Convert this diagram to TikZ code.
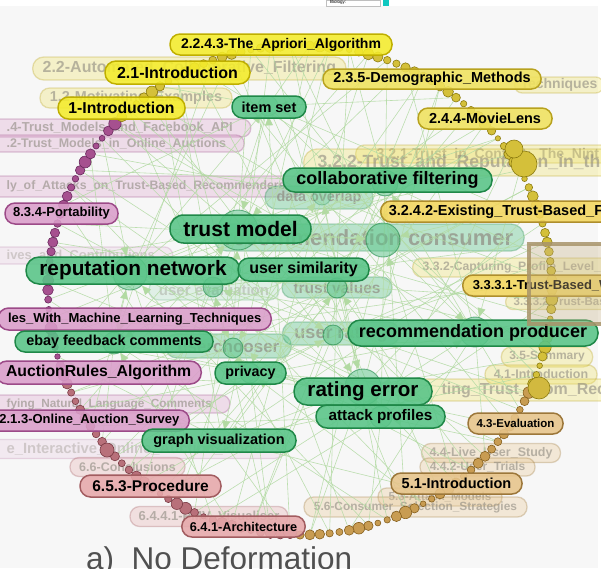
\documentclass[tikz,border=0pt]{standalone}
\usepackage{fontspec}
\setmainfont{Liberation Sans}
\usetikzlibrary{arrows.meta}
\definecolor{bgc}{HTML}{F7F7F7}
\definecolor{yF}{HTML}{F4EC2C}\definecolor{yD}{HTML}{BFAF00}
\definecolor{y2F}{HTML}{F0E25E}\definecolor{y2D}{HTML}{B8A21E}
\definecolor{gF}{HTML}{F3D65E}\definecolor{gD}{HTML}{AE8E2C}
\definecolor{tF}{HTML}{E7C48A}\definecolor{tD}{HTML}{9C773A}
\definecolor{rF}{HTML}{E6A8AA}\definecolor{rD}{HTML}{A25C60}
\definecolor{pF}{HTML}{DA9ECA}\definecolor{pD}{HTML}{9C4A88}
\definecolor{nF}{HTML}{58C487}\definecolor{nD}{HTML}{1F8848}
\definecolor{edgec}{HTML}{B2DAA2}
\definecolor{dY}{HTML}{D4C03A}\definecolor{dYd}{HTML}{8C7C10}
\definecolor{dP}{HTML}{A6508F}\definecolor{dPd}{HTML}{6A2A5E}
\definecolor{dR}{HTML}{B8707A}\definecolor{dRd}{HTML}{7A3A44}
\definecolor{dT}{HTML}{C89C52}\definecolor{dTd}{HTML}{86601E}
\definecolor{sqD}{HTML}{A8946A}\definecolor{sqF}{HTML}{C8B48A}
\definecolor{capc}{HTML}{505050}\definecolor{cyC}{HTML}{10C8C0}
\definecolor{fadeT}{HTML}{8E8A80}
\newcommand\fsz[1]{\fontsize{#1}{#1}\selectfont\bfseries}
\pgfdeclarelayer{bgl}\pgfdeclarelayer{fadel}\pgfdeclarelayer{edgel}\pgfdeclarelayer{fgl}
\pgfsetlayers{bgl,fadel,edgel,main,fgl}
\tikzset{
 pill/.style={rectangle, draw, line width=1.5pt, inner ysep=0pt, inner xsep=8pt, text=black},
 ph/.style={minimum height=#1pt, rounded corners=#1pt/2-0.4pt},
 pw/.style={minimum width=#1pt},
 fs/.style={font=\fsz{#1}},
 solid/.style={pill, fill opacity=0.88, text opacity=1},
 pY/.style={solid, fill=yF, draw=yD},
 pY2/.style={solid, fill=y2F, draw=y2D},
 pG/.style={solid, fill=gF, draw=gD},
 pT/.style={solid, fill=tF, draw=tD},
 pR/.style={solid, fill=rF, draw=rD},
 pP/.style={solid, fill=pF, draw=pD},
 pN/.style={solid, fill=nF, draw=nD},
 fade/.style={pill, line width=1.3pt, fill opacity=0.3, draw opacity=0.3, text=fadeT, text opacity=0.6},
 faint/.style={fill opacity=0.15, draw opacity=0.18, text opacity=0.35},
 fY/.style={fade, fill=y2F, draw=y2D},
 fT/.style={fade, fill=tF, draw=tD},
 fP/.style={fade, fill=pF, draw=pD},
 fR/.style={fade, fill=rF, draw=rD},
 fN/.style={fade, fill=nF, draw=nD, fill opacity=0.38, text opacity=0.7},
 hub/.style={circle, inner sep=0pt, fill=nF, draw=nD, fill opacity=0.5, draw opacity=0.6, line width=0.9pt},
 rdot/.style={circle, inner sep=0pt, line width=0.6pt},
 lnk/.style={draw=edgec, line width=0.6pt, draw opacity=0.85},
 arr/.style={-{Triangle[length=9pt,width=8pt]}},
}
\begin{document}
\begin{tikzpicture}[x=1pt,y=-1pt]
\useasboundingbox (0,0) rectangle (601,568);
\begin{pgfonlayer}{bgl}
\fill[white] (0,0) rectangle (601,568);
\fill[bgc] (0,6) rectangle (598,568);
\node[draw=black!25, line width=0.3pt, fill=white, minimum width=54pt, minimum height=6pt, inner sep=0pt, anchor=north west] (bio) at (326,0) {};
\node[anchor=west, inner sep=0pt, font=\fontsize{4.5}{5}\selectfont] (biot) at (330,2.5) {Biology:};
\node[fill=cyC, minimum width=6pt, minimum height=6pt, inner sep=0pt, anchor=north west] (cy) at (383,0) {};
\end{pgfonlayer}

% hubs
\node[hub, minimum size=40pt] (hTM) at (238,230) {};
\node[hub, minimum size=26pt] (hCF) at (385,183) {};
\node[hub, minimum size=34pt] (hRC) at (383,240) {};
\node[hub, minimum size=34pt] (hRN) at (130,273) {};
\node[hub, minimum size=20pt] (hUE) at (213,287) {};
\node[hub, minimum size=20pt] (hTV) at (337,288) {};
\node[hub, minimum size=18pt, fill opacity=0.25, draw opacity=0.3] (hDO) at (322,196) {};
\node[hub, minimum size=20pt, fill opacity=0.3, draw opacity=0.35] (hIS) at (268,106) {};
\node[hub, minimum size=30pt] (hRP) at (475,332) {};
\node[hub, minimum size=20pt] (hUR) at (333,335) {};
\node[hub, minimum size=36pt] (hRE) at (363,387) {};
\node[hub, minimum size=22pt] (hAP) at (381,417) {};
\node[hub, minimum size=20pt] (hPV) at (250,373) {};
\node[hub, minimum size=20pt] (hUC) at (233,348) {};
\node[hub, minimum size=22pt] (hEB) at (114,343) {};
\node[hub, minimum size=20pt, fill opacity=0.2, draw opacity=0.25] (hGV) at (222,440) {};

% ring of section dots
\foreach \i in {0,...,159}{
  \pgfmathsetmacro\t{2.25*\i}
  \pgfmathsetmacro\ds{2*(2.6+1.2*(1+sin(\i*77.3))+0.6*(1+cos(\i*61.7)))}
  \pgfmathtruncatemacro\seg{(\t>=24)*(\t<92)*1+(\t>=92)*(\t<158)*2+(\t>=158)*(\t<224)*3}
  \ifcase\seg \def\dc{dY}\def\dd{dYd}\or \def\dc{dT}\def\dd{dTd}\or \def\dc{dR}\def\dd{dRd}\or \def\dc{dP}\def\dd{dPd}\fi
  \node[rdot, fill=\dc, draw=\dd, minimum size=\ds pt] (d\i) at ({300+252*cos(\t)},{290+245*sin(\t)}) {};
}
\node[rdot, fill=dY, draw=dYd, minimum size=26pt] (bd1) at (524,164) {};
\node[rdot, fill=dY, draw=dYd, minimum size=18pt] (bd2) at (514,149) {};
\node[rdot, fill=dY!80!dT, draw=dYd, minimum size=22pt] (bd3) at (539,388) {};
\node[rdot, fill=dR, draw=dRd, minimum size=14pt] (bd4) at (107,450) {};
\node[rdot, fill=dR, draw=dRd, minimum size=14pt] (bd5) at (290,531) {};

% edges
\begin{pgfonlayer}{edgel}
\foreach \h/\s in {hTM/3, hCF/13, hRC/23, hRN/33, hUE/43, hTV/53, hDO/63, hIS/73, hRP/83, hUR/93, hRE/103, hAP/113, hPV/123, hUC/133, hEB/143, hGV/153}{
  \foreach \k in {0,...,9}{
    \pgfmathtruncatemacro\j{mod(\s+16*\k,160)}
    \pgfmathtruncatemacro\ar{mod(\k,4)==0}
    \ifnum\ar=1 \draw[lnk,arr] (d\j) -- (\h); \else \draw[lnk] (d\j) -- (\h); \fi
  }
}
\foreach \a/\b in {hTM/hRC, hTM/hRN, hRC/hRP, hRE/hAP, hTV/hRE, hUE/hRN, hIS/hTM, hCF/hRC, hPV/hRE, hUC/hTM, hEB/hRN, hGV/hRE, hUR/hRP, hDO/hCF}{
  \draw[lnk,arr] (\a) -- (\b);
}
\end{pgfonlayer}

% faded labels
\begin{pgfonlayer}{fadel}
\node[fY, ph=23, fs=16, anchor=west, inner xsep=10pt] (f1) at (32,68.5) {2.2-Automated\_Collaborative\_Filtering};
\node[fY, ph=20, pw=192, fs=14.4] (f2) at (136,98) {1.2-Motivating\_Examples};
\node[fY, ph=16, fs=14, anchor=east, inner xsep=6pt] (f3) at (604,85) {Techniques};
\node[fY, ph=18, fs=14, anchor=west, inner xsep=21pt] (f4) at (355,154) {3.2.1-Trust\_in\_Context:\_The\_Nint};
\node[fY, ph=27, fs=17.6, anchor=west, inner xsep=14pt] (f5) at (303,162.5) {3.2.2-Trust\_and\_Reputation\_in\_th};
\node[fY, ph=19, fs=12.2, anchor=west, inner xsep=10pt] (f6) at (412,267.5) {3.3.2-Capturing\_Profile\_Level\_};
\node[fY, ph=15, fs=11.5, anchor=west, inner xsep=8pt] (f7) at (505,302) {3.3.3.2-Trust-Based\_};
\node[fY, ph=20, pw=90, fs=12] (f8) at (547,357) {3.5-Summary};
\node[fY, ph=19, pw=112, fs=12.5] (f9) at (541,374.5) {4.1-Introduction};
\node[fY, ph=22, fs=16, anchor=west, inner xsep=43pt] (f10) at (398,390) {ting\_Trust\_From\_Recomm};
\node[fT, ph=19, pw=134, fs=12.5] (f11) at (491,453) {4.4-Live\_User\_Study};
\node[fT, ph=18, pw=115, fs=12] (f12) at (477.5,467) {4.4.2-User\_Trials};
\node[fT, ph=18, pw=124, fs=11.7] (f13) at (440,497) {5.3-Attack\_Models};
\node[fT, ph=20, pw=223, fs=11.9] (f14) at (415.5,507) {5.6-Consumer\_Selection\_Strategies};
\node[fP, ph=18, fs=13, anchor=west, inner xsep=18pt] (f15) at (-12,128) {.4-Trust\_Models\_and\_Facebook\_API};
\node[fP, ph=17, fs=12.5, anchor=west, inner xsep=18pt] (f16) at (-12,143.5) {.2-Trust\_Models\_in\_Online\_Auctions};
\node[fP, ph=21, fs=12.3, anchor=west, inner xsep=18pt] (f17) at (-12,186.5) {ly\_of\_Attacks\_on\_Trust-Based\_Recommenders};
\node[fP, faint, ph=17, fs=13, anchor=west, inner xsep=18pt] (f18) at (-12,255.5) {ives\_and\_Contributions};
\node[fP, ph=18, fs=11.8, anchor=west, inner xsep=18pt] (f19) at (-12,404) {fying\_Natural\_Language\_Comments};
\node[fP, faint, ph=19, fs=14.8, anchor=west, inner xsep=18pt] (f20) at (-12,449) {e\_Interactive\_Online\_Auction\_Model};
\node[fR, ph=19, pw=115, fs=12.5] (f21) at (127.5,467) {6.6-Conclusions};
\node[fR, ph=20, pw=158, fs=13] (f22) at (209,516.5) {6.4.4.1-PMV\_Visualiser};
\node[fN, ph=23, pw=108, fs=14.4] (f23) at (319,197.5) {data overlap};
\node[fN, ph=27, fs=22, anchor=west, inner xsep=11pt] (f24) at (213,237.5) {recommendation consumer};
\node[fN, ph=21, pw=110, fs=15.5] (f25) at (337,287.5) {trust values};
\node[fN, faint, ph=20, pw=130, fs=15] (f26) at (214,290) {user evaluation};
\node[fN, ph=24, fs=17, anchor=east, inner xsep=12pt] (f27) at (292,346) {userchooser};
\node[fN, ph=23, pw=117, fs=18] (f28) at (341,333.5) {user rating};
\end{pgfonlayer}

% solid section labels
\node[pY, ph=21, pw=222, fs=14] (s1) at (281,44.5) {2.2.4.3-The\_Apriori\_Algorithm};
\node[pY, ph=23, pw=145, fs=16] (s2) at (177.5,72.5) {2.1-Introduction};
\node[pY, ph=22, pw=127, fs=15.8] (s3) at (121.5,108) {1-Introduction};
\node[pY2, ph=20, pw=218, fs=14.5] (s4) at (432,79) {2.3.5-Demographic\_Methods};
\node[pY2, ph=21, pw=134, fs=14.5] (s5) at (485,118.5) {2.4.4-MovieLens};
\node[pG, ph=21, fs=14.5, anchor=west] (s6) at (380,211.5) {3.2.4.2-Existing\_Trust-Based\_F};
\node[pG, ph=21, fs=13, anchor=west, inner xsep=10pt] (s7) at (462,285.5) {3.3.3.1-Trust-Based\_W};
\node[pT, ph=21, pw=95, fs=11.5] (s8) at (515.5,423.5) {4.3-Evaluation};
\node[pT, ph=21, pw=131, fs=14.5] (s9) at (456.5,483.5) {5.1-Introduction};
\node[pR, ph=22, pw=141, fs=15.5] (s10) at (150.5,486) {6.5.3-Procedure};
\node[pR, ph=21, pw=123, fs=12.7] (s11) at (243.5,526.5) {6.4.1-Architecture};
\node[pP, ph=21, pw=113, fs=13] (s12) at (61.5,213.5) {8.3.4-Portability};
\node[pP, ph=22, fs=13, anchor=east, inner xsep=10pt] (s13) at (272,319) {les\_With\_Machine\_Learning\_Techniques};
\node[pP, ph=23, fs=15.8, anchor=east, inner xsep=10pt] (s14) at (202,372.5) {AuctionRules\_Algorithm};
\node[pP, ph=21, fs=13, anchor=east, inner xsep=10pt] (s15) at (190,420.5) {2.1.3-Online\_Auction\_Survey};

% solid concept labels
\node[pN, ph=22, pw=74, fs=14.5] (g1) at (269,107) {item set};
\node[pN, ph=24, pw=209, fs=18] (g2) at (387.5,180) {collaborative filtering};
\node[pN, ph=28, pw=141, fs=21] (g3) at (240.5,229) {trust model};
\node[pN, ph=27, pw=214, fs=20.8] (g4) at (133,270.5) {reputation network};
\node[pN, ph=23, pw=131, fs=16] (g5) at (303.5,269.5) {user similarity};
\node[pN, ph=26, pw=250, fs=18] (g6) at (473,333) {recommendation producer};
\node[pN, ph=21, pw=198, fs=14.4] (g7) at (114,341.5) {ebay feedback comments};
\node[pN, ph=22, pw=71, fs=14.3] (g8) at (250.5,373) {privacy};
\node[pN, ph=27, pw=138, fs=20.6] (g9) at (363,391.5) {rating error};
\node[pN, ph=23, pw=129, fs=15.3] (g10) at (380.5,416.5) {attack profiles};
\node[pN, ph=23, pw=154, fs=14.5] (g11) at (219,440.5) {graph visualization};

\begin{pgfonlayer}{fgl}
\node[draw=sqD, fill=sqF, line width=4pt, fill opacity=0.35, draw opacity=0.85, minimum width=77pt, minimum height=80pt, inner sep=0pt] (sq) at (567.5,284) {};
\node[anchor=base west, inner sep=0pt, text=capc, font=\fontsize{31.5}{32}\selectfont] (cap) at (86,569) {a)\ \ No Deformation};
\end{pgfonlayer}
\end{tikzpicture}
\end{document}
